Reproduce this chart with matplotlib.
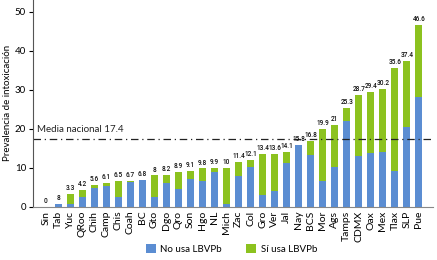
import matplotlib
matplotlib.use("Agg")
import matplotlib.pyplot as plt
import numpy as np

plt.rcParams['font.family'] = ['Lato', 'DejaVu Sans']

states = ["Sin", "Tab", "Yuc", "QRoo", "Chih", "Camp", "Chis", "Coah", "BC", "Gto",
          "Dgo", "Qro", "Son", "Hgo", "NL", "Mich", "Zac", "Col", "Gro", "Ver",
          "Jal", "Nay", "BCS", "Mor", "Ags", "Tamps", "CDMX", "Oax", "Mex", "Tlax",
          "SLP", "Pue"]
totals = [0, 0.8, 3.3, 4.2, 5.6, 6.1, 6.5, 6.7, 6.8, 8,
          8.2, 8.9, 9.1, 9.8, 9.9, 10, 11.4, 12.1, 13.4, 13.6,
          14.1, 15.8, 16.8, 19.9, 21, 25.3, 28.7, 29.4, 30.2, 35.6,
          37.4, 46.6]
total_labels = ["0", "8", "3.3", "4.2", "5.6", "6.1", "6.5", "6.7", "6.8", "8",
                "8.2", "8.9", "9.1", "9.8", "9.9", "10", "11.4", "12.1", "13.4", "13.6",
                "14.1", "15.8", "16.8", "19.9", "21", "25.3", "28.7", "29.4", "30.2", "35.6",
                "37.4", "46.6"]
no_usa = [0, 0.8, 0.6, 2.6, 4.9, 5.4, 2.4, 6.4, 6.8, 2.6,
          6.0, 4.6, 7.2, 6.5, 8.9, 0.7, 7.9, 10.1, 3.0, 3.9,
          11.2, 15.8, 13.3, 6.6, 10.1, 22.0, 13.1, 13.7, 14.0, 9.2,
          20.4, 28.1]
si_usa = [round(t - n, 2) for t, n in zip(totals, no_usa)]
media_nacional = 17.4

blue = "#5B8DD2"
green = "#8CC21F"

fig = plt.figure(figsize=(4.37, 2.6), dpi=100)
ax = fig.add_axes([33/437, 1 - 206.7/260, (433-33)/437, 206.7/260])

x = np.arange(len(states))
w = 0.58
ax.bar(x, no_usa, width=w, color=blue, label="No usa LBVPb")
ax.bar(x, si_usa, width=w, bottom=no_usa, color=green, label="Sí usa LBVPb")

for xi, t, lab in zip(x, totals, total_labels):
    ax.text(xi, t + 0.5, lab, ha="center", va="bottom", fontsize=4.7,
            family=['Roboto', 'DejaVu Sans'], fontweight='medium',
            color="#111111")

ax.axhline(media_nacional, color="#222222", lw=0.9, ls=(0, (6, 3, 1, 3)))
ax.text(-0.75, media_nacional + 1.2, f"Media nacional {media_nacional}", fontsize=7,
        ha="left", va="bottom", color="#222222")

ax.set_xlim(-1.08, 32.17)
ax.set_ylim(0, 53)
ax.set_yticks([0, 10, 20, 30, 40, 50])
ax.set_xticks(x)
ax.set_xticklabels(states, rotation=90, fontsize=7.5)
ax.tick_params(axis="x", length=0, pad=3)
ax.tick_params(axis="y", labelsize=7, length=3, width=0.8, pad=2)
ax.set_ylabel("Prevalencia de intoxicación", fontsize=7, labelpad=2)
for s in ["top", "right"]:
    ax.spines[s].set_visible(False)
ax.spines["left"].set_color("#555555")
ax.spines["bottom"].set_color("#888888")

fig.legend(loc="lower center", bbox_to_anchor=(0.53, -0.01), ncol=2, frameon=False,
           fontsize=7, handlelength=1.0, handleheight=1.0, columnspacing=2.5, handletextpad=0.5)

fig.savefig("out.png", dpi=100)
